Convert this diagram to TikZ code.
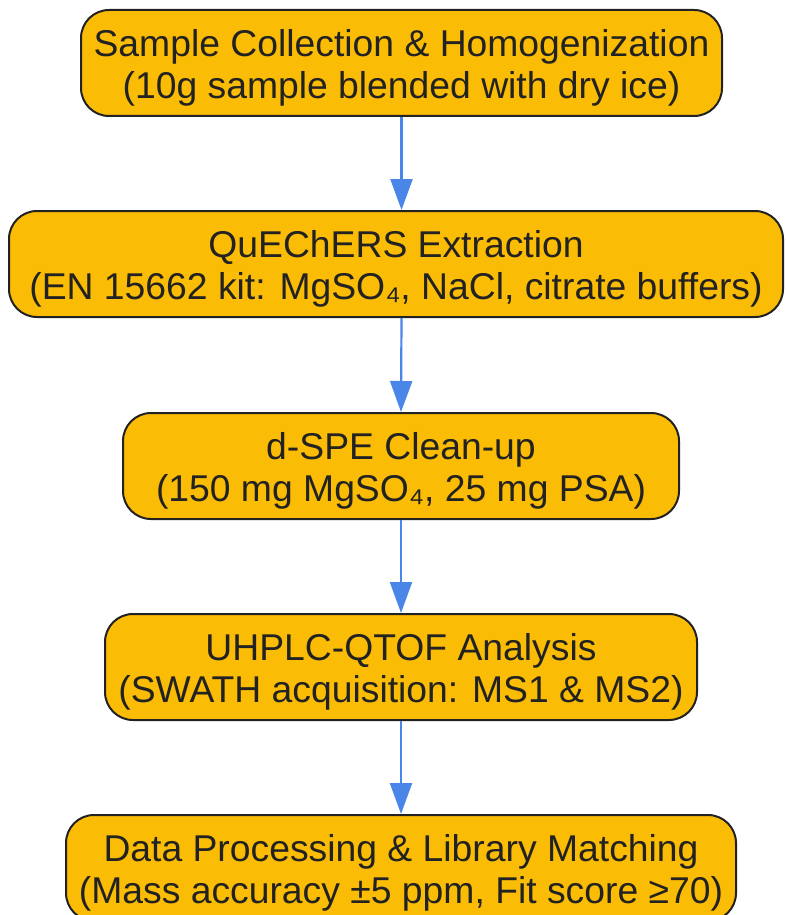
\documentclass[tikz,border=0pt]{standalone}
\usepackage{fontspec}
\setmainfont{Liberation Sans}
\usetikzlibrary{arrows.meta}
\definecolor{boxfill}{HTML}{FBBC05}
\definecolor{boxline}{HTML}{222222}
\definecolor{flow}{HTML}{4A86E8}

\begin{document}
\begin{tikzpicture}[x=1pt,y=-1pt,
  stage/.style={rectangle,rounded corners=28pt,draw=boxline,line width=2pt,fill=boxfill,
    text=boxline,align=center,minimum height=106pt,inner sep=0pt,
    font=\fontsize{37.3}{42}\selectfont,text height=79pt,text depth=8pt},
  flowarrow/.style={draw=flow,line width=2.2pt,-{Triangle[length=31pt,width=22pt]}}]
\useasboundingbox (0,0) rectangle (785,915);
% process stages
\node [stage,minimum width=641pt] (collect) at (401.5,63) {Sample Collection \& Homogenization\\(10g sample blended with dry ice)};
\node [stage,minimum width=774pt] (extract) at (396,264) {QuEChERS Extraction\\(EN 15662 kit: MgSO₄, NaCl, citrate buffers)};
\node [stage,minimum width=556pt] (cleanup) at (401,466) {d-SPE Clean-up\\(150 mg MgSO₄, 25 mg PSA)};
\node [stage,minimum width=592pt] (analysis) at (401,667) {UHPLC-QTOF Analysis\\(SWATH acquisition: MS1 \& MS2)};
\node [stage,minimum width=670pt] (process) at (401,868) {Data Processing \& Library Matching\\(Mass accuracy ±5 ppm, Fit score ≥70)};

\draw [flowarrow] (collect.south) -- (collect.south |- extract.north);
\draw [flowarrow] (collect.south |- extract.south) -- (cleanup.north);
\draw [flowarrow] (cleanup) -- (analysis);
\draw [flowarrow] (analysis) -- (process);
\end{tikzpicture}
\end{document}
